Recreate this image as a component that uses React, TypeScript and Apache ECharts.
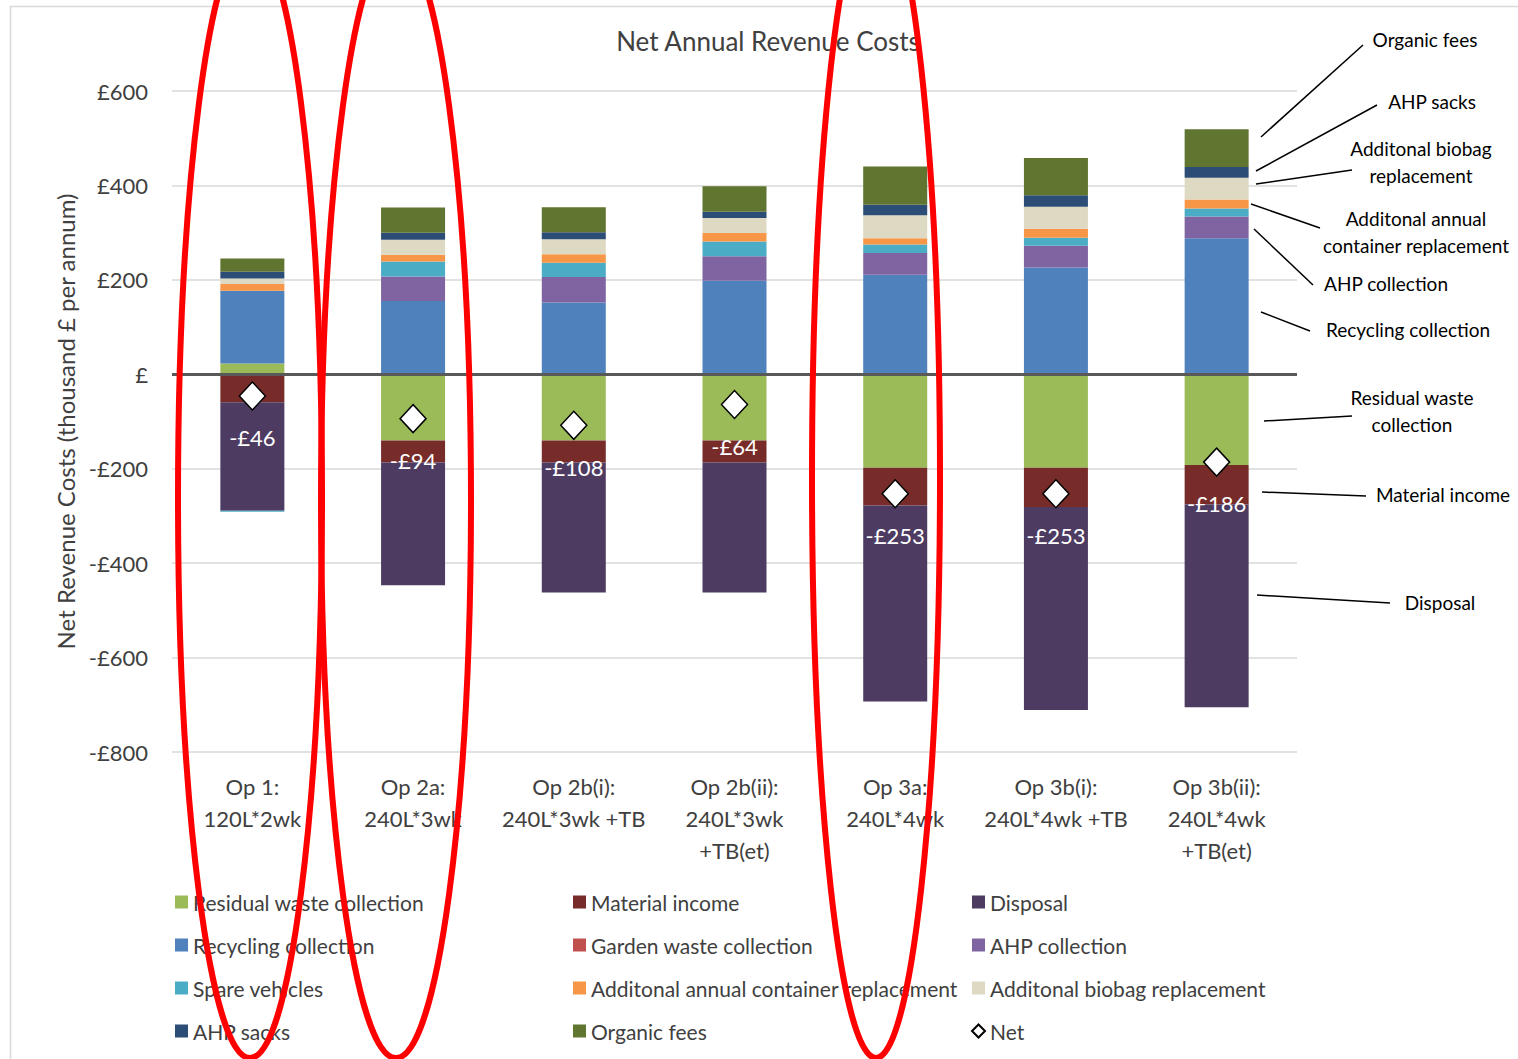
import React, { useEffect, useRef } from "react";
import * as echarts from "echarts";

const categories = [
  "Op 1:\n120L*2wk",
  "Op 2a:\n240L*3wk",
  "Op 2b(i):\n240L*3wk +TB",
  "Op 2b(ii):\n240L*3wk\n+TB(et)",
  "Op 3a:\n240L*4wk",
  "Op 3b(i):\n240L*4wk +TB",
  "Op 3b(ii):\n240L*4wk\n+TB(et)",
];

const residualWaste = [23, -140, -140, -140, -198, -198, -192];
const materialIncome = [-59, -47, -47, -47, -80, -83, -84];
const disposal = [-230, -260, -275, -275, -415, -430, -429];
const recycling = [154, 155, 152, 198, 211, 226, 288];
const gardenWaste = [0, 0, 0, 0, 0, 0, 0];
const ahpCollection = [0, 52, 54, 52, 46, 46, 46];
const spareVehicles = [-2, 32, 30, 31, 18, 17, 17];
const containerReplacement = [14, 14, 18, 18, 13, 19, 19];
const biobagReplacement = [12, 32, 32, 32, 49, 47, 46];
const ahpSacks = [14, 15, 15, 13, 22, 24, 23];
const organicFees = [28, 53, 53, 54, 81, 79, 80];
const net = [-46, -94, -108, -64, -253, -253, -186];

const yTicks = [600, 400, 200, 0, -200, -400, -600, -800];

const FONT = "Lato";
const TXT = "#404040";

const barSeries = [
  { name: "Residual waste collection", data: residualWaste, color: "#9bbb59" },
  { name: "Material income", data: materialIncome, color: "#772c2a" },
  { name: "Disposal", data: disposal, color: "#4d3b62" },
  { name: "Recycling collection", data: recycling, color: "#4f81bd" },
  { name: "Garden waste collection", data: gardenWaste, color: "#c0504d" },
  { name: "AHP collection", data: ahpCollection, color: "#8064a2" },
  { name: "Spare vehicles", data: spareVehicles, color: "#4bacc6" },
  { name: "Additonal annual container replacement", data: containerReplacement, color: "#f79646" },
  { name: "Additonal biobag replacement", data: biobagReplacement, color: "#ddd9c3" },
  { name: "AHP sacks", data: ahpSacks, color: "#2c4d75" },
  { name: "Organic fees", data: organicFees, color: "#5f7530" },
];

const annotations = [
  { text: "Organic fees", x: 1425, y: 39, line: [1261, 137, 1363, 45] },
  { text: "AHP sacks", x: 1432, y: 101, line: [1256, 171, 1377, 105] },
  { text: "Additonal biobag\nreplacement", x: 1421, y: 162, line: [1256, 184, 1352, 170] },
  { text: "Additonal annual\ncontainer replacement", x: 1416, y: 232, line: [1251, 204, 1320, 228] },
  { text: "AHP collection", x: 1386, y: 283, line: [1254, 229, 1313, 285] },
  { text: "Recycling collection", x: 1408, y: 329, line: [1261, 312, 1310, 331] },
  { text: "Residual waste\ncollection", x: 1412, y: 411, line: [1264, 421, 1352, 416] },
  { text: "Material income", x: 1443, y: 494, line: [1262, 492, 1366, 496] },
  { text: "Disposal", x: 1440, y: 602, line: [1257, 595, 1390, 603] },
];

const ellipses = [
  { cx: 250, cy: 498, rx: 72, ry: 560 },
  { cx: 396, cy: 500, rx: 75, ry: 558 },
  { cx: 876, cy: 478, rx: 64, ry: 580 },
];

function fmtMoney(v: number) {
  if (v === 0) return "£";
  return v < 0 ? "-£" + Math.abs(v) : "£" + v;
}

export default function App() {
  const ref = useRef<HTMLDivElement>(null);
  useEffect(() => {
    if (!ref.current) return;
    const chart = echarts.init(ref.current, null, { renderer: "svg" });

    const series: any[] = barSeries.map((s, i) => ({
      name: s.name,
      type: "bar",
      stack: "total",
      barWidth: 64,
      data: s.data,
      itemStyle: { color: s.color },
      markLine:
        i === 0
          ? {
              silent: true,
              symbol: ["none", "none"],
              label: { show: false },
              lineStyle: { color: "#595959", width: 3, type: "solid" },
              data: [{ yAxis: 0 }],
              z: 5,
            }
          : undefined,
    }));
    series.push({
      name: "Net",
      type: "scatter",
      data: net,
      symbol: "diamond",
      symbolSize: [26, 28],
      z: 10,
      itemStyle: { color: "#ffffff", borderColor: "#000000", borderWidth: 1.5, opacity: 1 },
      label: {
        show: true,
        position: "bottom",
        distance: 16,
        color: "#ffffff",
        fontFamily: FONT,
        fontSize: 22,
        formatter: (p: any) => fmtMoney(p.value),
      },
    });

    const legendBase = {
      orient: "vertical",
      itemWidth: 13,
      itemHeight: 13,
      itemGap: 21,
      icon: "rect",
      textStyle: { fontFamily: FONT, fontSize: 21, color: TXT, lineHeight: 22 },
      selectedMode: false,
      top: 886,
    };

    const graphic: any[] = [
      {
        type: "rect",
        shape: { x: 10.5, y: 6.5, width: 1700, height: 1200 },
        style: { fill: "none", stroke: "#d9d9d9", lineWidth: 1.5 },
        z: -10,
        silent: true,
      },
    ];
    annotations.forEach((a) => {
      graphic.push({
        type: "line",
        shape: { x1: a.line[0], y1: a.line[1], x2: a.line[2], y2: a.line[3] },
        style: { stroke: "#000000", lineWidth: 1.5 },
        silent: true,
      });
      graphic.push({
        type: "text",
        x: a.x,
        y: a.y,
        style: {
          text: a.text,
          fill: "#000000",
          font: `19px ${FONT}`,
          align: "center",
          verticalAlign: "middle",
          lineHeight: 27,
        },
        silent: true,
      });
    });
    ellipses.forEach((e) => {
      graphic.push({
        type: "ellipse",
        shape: e,
        style: { fill: "none", stroke: "#ff0000", lineWidth: 6 },
        z: 100,
        silent: true,
      });
    });

    chart.setOption({
      animation: false,
      backgroundColor: "#ffffff",
      title: {
        text: "Net Annual Revenue Costs",
        left: 763,
        top: 23,
        textAlign: "center",
        textStyle: { fontFamily: FONT, fontSize: 26, fontWeight: "normal", color: TXT },
      },
      grid: { left: 172, top: 91, width: 1125, height: 661, containLabel: false },
      xAxis: {
        type: "category",
        data: categories,
        axisLine: { show: false, onZero: false },
        axisTick: { show: false },
        axisLabel: {
          fontFamily: FONT,
          fontSize: 22,
          color: TXT,
          lineHeight: 32,
          margin: 18,
          interval: 0,
        },
      },
      yAxis: {
        type: "value",
        min: -800,
        max: 600,
        interval: 200,
        name: "Net Revenue Costs (thousand £ per annum)",
        nameLocation: "middle",
        nameGap: 88,
        nameTextStyle: { fontFamily: FONT, fontSize: 24, color: TXT },
        axisLine: { show: false },
        axisTick: { show: false },
        splitLine: { lineStyle: { color: "#d9d9d9", width: 1.5 } },
        axisLabel: {
          fontFamily: FONT,
          fontSize: 22,
          color: TXT,
          margin: 24,
          formatter: (v: number) => (yTicks.includes(v) ? fmtMoney(v) : ""),
        },
      },
      legend: [
        {
          ...legendBase,
          left: 170,
          data: ["Residual waste collection", "Recycling collection", "Spare vehicles", "AHP sacks"],
        },
        {
          ...legendBase,
          left: 568,
          data: [
            "Material income",
            "Garden waste collection",
            "Additonal annual container replacement",
            "Organic fees",
          ],
        },
        {
          ...legendBase,
          left: 966,
          data: [
            "Disposal",
            "AHP collection",
            "Additonal biobag replacement",
            { name: "Net", icon: "diamond" },
          ],
        },
      ],
      series,
      graphic,
    });
    return () => chart.dispose();
  }, []);
  return (
    <div
      ref={ref}
      style={{ position: "fixed", left: 0, top: 0, width: 1518, height: 1059, background: "#fff" }}
    />
  );
}
